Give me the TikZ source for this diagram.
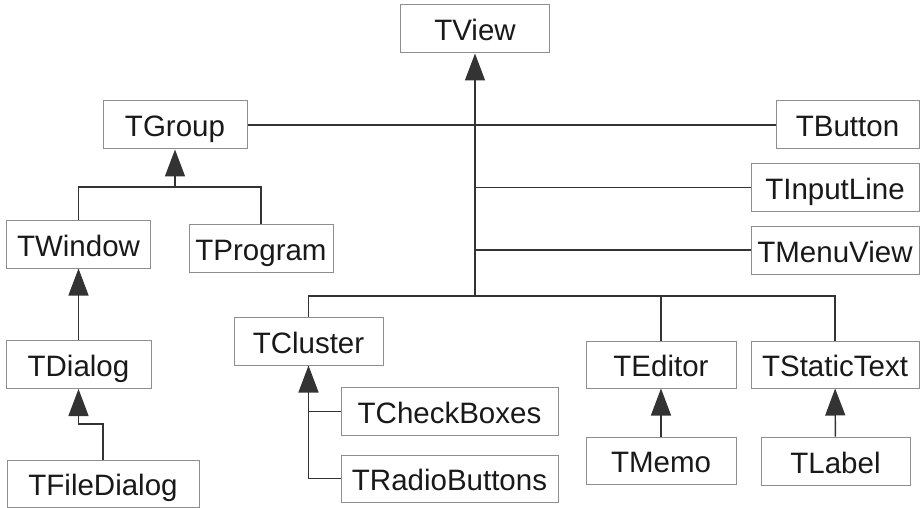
\documentclass[tikz,border=0pt]{standalone}
\usepackage{fontspec}
\setmainfont{Liberation Sans}
\usepackage{xcolor}
\usepackage{tikz}
\usetikzlibrary{shapes,arrows.meta}
\definecolor{boxgray}{HTML}{8E8E8E}
\definecolor{linegray}{HTML}{333333}
\tikzstyle{cls} = [rectangle, draw=boxgray, line width=1pt, fill=white, inner sep=0pt, minimum width=144pt, minimum height=48pt, text height=24pt, text depth=0pt, font=\fontsize{29.5}{33}\selectfont, text=black!90]
\tikzstyle{line} = [draw=linegray, line width=1.4pt]
\tikzstyle{inherit} = [line, -{Triangle[length=27pt,width=20pt]}]

\begin{document}
\begin{tikzpicture}[x=1pt, y=-1pt]
        \useasboundingbox (0,0) rectangle (924,508);

        % Place nodes
        \node [cls, minimum width=149pt] (tview) at (475,29) {TView};
        \node [cls] (tgroup) at (175,125) {TGroup};
        \node [cls, minimum width=143pt] (tbutton) at (847.5,125) {TButton};
        \node [cls, minimum width=168pt] (tinputline) at (835,187.5) {TInputLine};
        \node [cls, minimum width=168pt] (tmenuview) at (835,250) {TMenuView};
        \node [cls] (twindow) at (78.5,244) {TWindow};
        \node [cls] (tprogram) at (261,248.5) {TProgram};
        \node [cls, minimum width=145pt] (tdialog) at (78.5,364.5) {TDialog};
        \node [cls, minimum width=192pt, minimum height=47pt] (tfiledialog) at (103,483.5) {TFileDialog};
        \node [cls, minimum width=149pt] (tcluster) at (308.5,341) {TCluster};
        \node [cls, minimum width=217pt] (tcheckboxes) at (449.5,411.5) {TCheckBoxes};
        \node [cls, minimum width=217pt, minimum height=47pt] (tradiobuttons) at (449.5,478.5) {TRadioButtons};
        \node [cls, minimum width=150pt, minimum height=47pt] (teditor) at (661,364.5) {TEditor};
        \node [cls, minimum width=168pt, minimum height=47pt] (tstatictext) at (835,364.5) {TStaticText};
        \node [cls, minimum width=150pt, minimum height=47pt] (tmemo) at (661,460.5) {TMemo};
        \node [cls, minimum width=149pt] (tlabel) at (835.5,461) {TLabel};

        % Junctions
        \coordinate (vbus) at (475,296);
        \coordinate (gbus) at (175,187);
        \coordinate (fbend) at (78.5,424);

        % Draw edges
        \path [inherit] (vbus) -- (tview);
        \path [line] (tgroup) -- (tbutton);
        \path [line] (tinputline) -- (tinputline -| vbus);
        \path [line] (tmenuview) -- (tmenuview -| vbus);
        \path [line] (tcluster) |- (vbus) -| (tstatictext);
        \path [line] (teditor) -- (teditor |- vbus);

        \path [inherit] (gbus) -- (tgroup);
        \path [line] (twindow) |- (gbus) -| (tprogram);
        \path [inherit] (tdialog) -- (twindow);
        \path [inherit] (tfiledialog) |- (fbend) -- (tdialog);

        \path [line] (tcheckboxes) -- (tcheckboxes -| tcluster);
        \path [inherit] (tradiobuttons) -| (tcluster);
        \path [inherit] (tmemo) -- (teditor);
        \path [inherit] (tlabel) -- (tstatictext);
    \end{tikzpicture}
\end{document}
